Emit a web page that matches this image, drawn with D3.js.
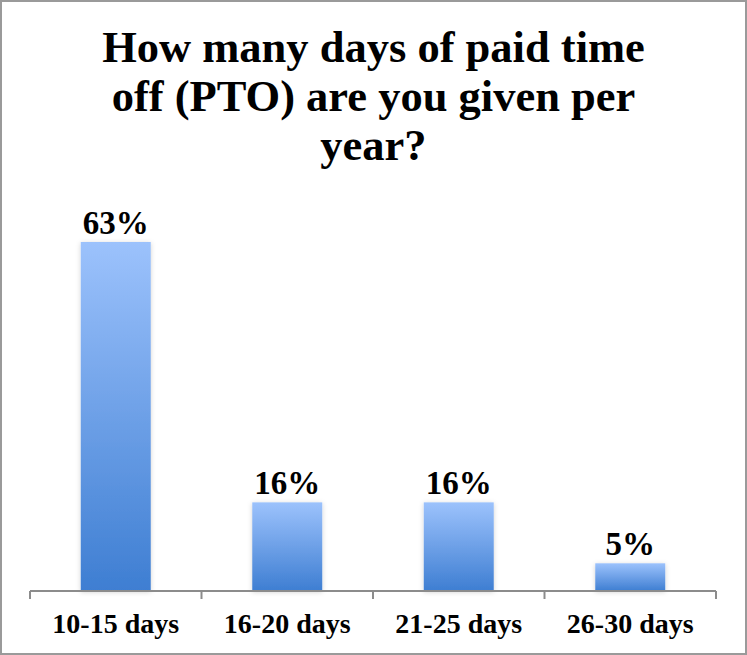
<html>
<head><meta charset="utf-8"></head>
<style>
  html, body { margin: 0; background: #fff; }
  svg { display: block; }
  text { font-family: "Liberation Serif", "Times New Roman", serif; font-weight: bold; fill: #000; }
</style>
<body>
<svg width="747" height="655"></svg>
<script src="https://cdnjs.cloudflare.com/ajax/libs/d3/7.8.5/d3.min.js"></script>
<script>
  // chart data
  const titleLines = ['How many days of paid time', 'off (PTO) are you given per', 'year?'];
  const categories = ['10-15 days', '16-20 days', '21-25 days', '26-30 days'];
  const values = [63, 16, 16, 5];
  const valueLabels = ['63%', '16%', '16%', '5%'];

  const svg = d3.select('svg');
  const W = 747, H = 655;

  // outer frame
  svg.append('rect')
      .attr('x', 1).attr('y', 1)
      .attr('width', W - 2).attr('height', H - 2)
      .attr('fill', '#fff')
      .attr('stroke', '#9a9a9a')
      .attr('stroke-width', 2);

  // gradient + soft shadow for bars
  const defs = svg.append('defs');
  const grad = defs.append('linearGradient')
      .attr('id', 'barGrad')
      .attr('x1', 0).attr('y1', 0).attr('x2', 0).attr('y2', 1);
  grad.append('stop').attr('offset', '0%').attr('stop-color', '#9cc2fc');
  grad.append('stop').attr('offset', '100%').attr('stop-color', '#3e7ed2');

  const shadow = defs.append('filter')
      .attr('id', 'shadow')
      .attr('x', '-20%').attr('y', '-20%')
      .attr('width', '140%').attr('height', '140%');
  shadow.append('feDropShadow')
      .attr('dx', 0).attr('dy', 1)
      .attr('stdDeviation', 2.5)
      .attr('flood-color', '#000')
      .attr('flood-opacity', 0.18);

  // title
  svg.append('g')
    .selectAll('text')
    .data(titleLines)
    .join('text')
      .attr('x', W / 2)
      .attr('y', (d, i) => 62 + i * 49)
      .attr('text-anchor', 'middle')
      .attr('font-size', 44.5)
      .text(d => d);

  // scales
  const x = d3.scaleBand()
      .domain(categories)
      .range([30, 716])
      .paddingInner(0.592)
      .paddingOuter(0.296);

  const y = d3.scaleLinear()
      .domain([0, 63])
      .range([591, 242]);

  // bars
  svg.append('g')
    .selectAll('rect')
    .data(values)
    .join('rect')
      .attr('x', (d, i) => x(categories[i]))
      .attr('y', d => y(d))
      .attr('width', x.bandwidth())
      .attr('height', d => y(0) - y(d))
      .attr('fill', 'url(#barGrad)')
      .attr('filter', 'url(#shadow)');

  // value labels
  svg.append('g')
    .selectAll('text')
    .data(values)
    .join('text')
      .attr('x', (d, i) => x(categories[i]) + x.bandwidth() / 2)
      .attr('y', d => y(d) - 8)
      .attr('text-anchor', 'middle')
      .attr('font-size', 33)
      .text((d, i) => valueLabels[i]);

  // x axis: line with ticks at category boundaries
  const axis = svg.append('g').attr('stroke', '#8c8c8c').attr('stroke-width', 2);
  const [r0, r1] = x.range();
  axis.append('line')
      .attr('x1', r0).attr('x2', r1)
      .attr('y1', y(0)).attr('y2', y(0));
  const bounds = d3.range(categories.length + 1).map(i => r0 + i * x.step());
  axis.selectAll('line.tick')
    .data(bounds)
    .join('line')
      .attr('class', 'tick')
      .attr('x1', d => d).attr('x2', d => d)
      .attr('y1', y(0)).attr('y2', y(0) + 8);

  // category labels
  svg.append('g')
    .selectAll('text')
    .data(categories)
    .join('text')
      .attr('x', d => x(d) + x.bandwidth() / 2)
      .attr('y', 633)
      .attr('text-anchor', 'middle')
      .attr('font-size', 28)
      .text(d => d);
</script>
</body>
</html>
